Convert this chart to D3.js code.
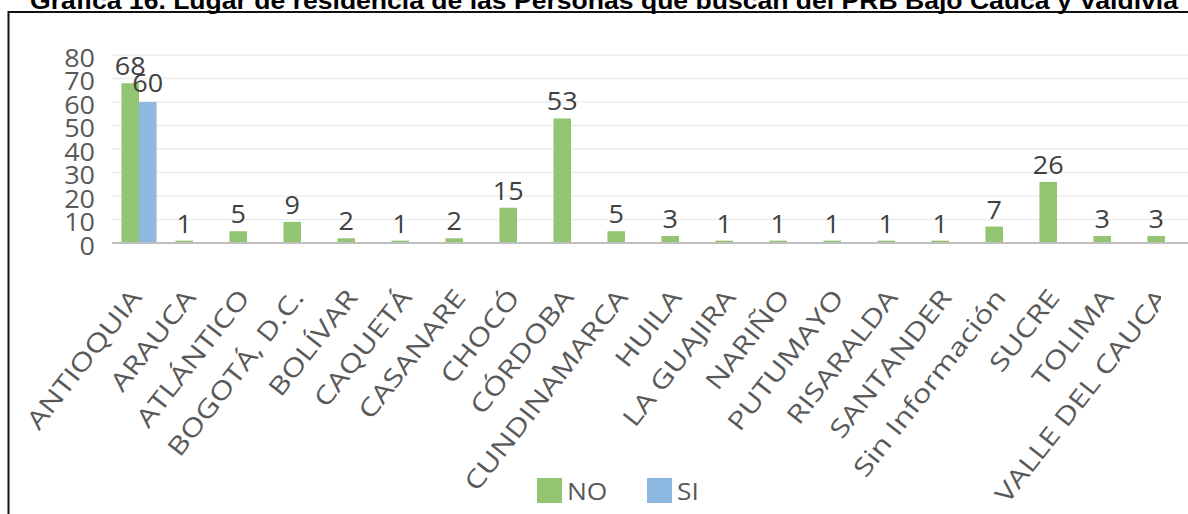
<!DOCTYPE html>
<html>
<head>
<meta charset="utf-8">
<script src="https://cdn.jsdelivr.net/npm/d3@7"></script>
<style>
  html, body { margin: 0; padding: 0; background: #fff; }
  svg { display: block; }
</style>
</head>
<body>
<svg id="chart" width="1188" height="514"></svg>
<script>
const titleText = "Gráfica 16. Lugar de residencia de las Personas que buscan del PRB Bajo Cauca y Valdivia";
const categories = ["ANTIOQUIA","ARAUCA","ATLÁNTICO","BOGOTÁ, D.C.","BOLÍVAR","CAQUETÁ","CASANARE","CHOCÓ","CÓRDOBA","CUNDINAMARCA","HUILA","LA GUAJIRA","NARIÑO","PUTUMAYO","RISARALDA","SANTANDER","Sin Información","SUCRE","TOLIMA","VALLE DEL CAUCA"];
const noValues = [68,1,5,9,2,1,2,15,53,5,3,1,1,1,1,1,7,26,3,3];
const siValues = [60,null,null,null,null,null,null,null,null,null,null,null,null,null,null,null,null,null,null,null];
const yTicks = [0,10,20,30,40,50,60,70,80];
const seriesNames = ["NO","SI"];
const seriesColors = ["#93c472","#8db8e2"];

const svg = d3.select("#chart");
const W = 1188, H = 514;

// frame
svg.append("line").attr("x1",8).attr("x2",W).attr("y1",12).attr("y2",12).attr("stroke","#111").attr("stroke-width",2);
svg.append("line").attr("x1",8.5).attr("x2",8.5).attr("y1",11).attr("y2",H).attr("stroke","#111").attr("stroke-width",2);

// title (cut at top)
svg.append("text").attr("x",30).attr("y",9)
  .attr("textLength",1148).attr("lengthAdjust","spacingAndGlyphs")
  .attr("font-family","Liberation Sans, Arial, sans-serif").attr("font-weight","bold")
  .attr("font-size",24).attr("fill","#000").text(titleText);

const x = d3.scaleBand().domain(categories).range([112,1192]).padding(0);
const y = d3.scaleLinear().domain([0,80]).range([243,55]);
const bw = x.bandwidth()*0.325;

// gridlines
svg.append("g").selectAll("line").data(yTicks.filter(d=>d>0)).join("line")
  .attr("x1",112).attr("x2",W).attr("y1",d=>y(d)).attr("y2",d=>y(d))
  .attr("stroke","#ececec").attr("stroke-width",1.5);

const lblFont = "Open Sans, sans-serif";

// y axis labels
const yAxis = d3.axisLeft(y).tickValues(yTicks).tickSize(0).tickPadding(0);
const gy = svg.append("g").attr("transform","translate(95,3)").call(yAxis);
gy.select(".domain").remove();
gy.selectAll("text").attr("font-family",lblFont).attr("font-size",25).attr("fill","#595959")
  .attr("transform","scale(1.08,1)");

// bars
const center = d => x(d) + x.bandwidth()/2;
const noData = categories.map((c,i)=>({c, v:noValues[i]}));
const siData = categories.map((c,i)=>({c, v:siValues[i]})).filter(d=>d.v!=null);

svg.append("g").selectAll("rect").data(noData).join("rect")
  .attr("x",d=>center(d.c)-bw).attr("width",bw)
  .attr("y",d=>y(d.v)).attr("height",d=>y(0)-y(d.v)).attr("fill",seriesColors[0]);
svg.append("g").selectAll("rect").data(siData).join("rect")
  .attr("x",d=>center(d.c)).attr("width",bw)
  .attr("y",d=>y(d.v)).attr("height",d=>y(0)-y(d.v)).attr("fill",seriesColors[1]);

// axis baseline
svg.append("line").attr("x1",112).attr("x2",W).attr("y1",y(0)).attr("y2",y(0)).attr("stroke","#bfbfbf").attr("stroke-width",2);

// data labels
svg.append("g").selectAll("text").data(noData).join("text")
  .attr("transform",d=>`translate(${center(d.c)-bw/2},${y(d.v)-8}) scale(1.08,1)`).attr("text-anchor","middle")
  .attr("font-family",lblFont).attr("font-size",25).attr("fill","#404040").text(d=>d.v);
svg.append("g").selectAll("text").data(siData).join("text")
  .attr("transform",d=>`translate(${center(d.c)+bw/2},${y(d.v)-10}) scale(1.08,1)`).attr("text-anchor","middle")
  .attr("font-family",lblFont).attr("font-size",25).attr("fill","#404040").text(d=>d.v);

// x labels
svg.append("defs").append("clipPath").attr("id","xclip").append("rect")
  .attr("x",0).attr("y",250).attr("width",1161).attr("height",260);
const gx = svg.append("g").attr("clip-path","url(#xclip)");
gx.selectAll("text").data(categories).join("text")
  .attr("transform",d=>`translate(${center(d)+4},298) rotate(-52) scale(1.25,1)`)
  .attr("text-anchor","end")
  .attr("font-family",lblFont).attr("font-size",25).attr("fill","#595959").text(d=>d);

// legend
const lg = svg.append("g");
const legX = [537,647];
seriesNames.forEach((n,i)=>{
  lg.append("rect").attr("x",legX[i]).attr("y",478).attr("width",25).attr("height",25).attr("fill",seriesColors[i]);
  lg.append("text").attr("transform",`translate(${legX[i]+30},500) scale(1.1,1)`).attr("font-family",lblFont).attr("font-size",24).attr("fill","#595959").text(n);
});
</script>
</body>
</html>
